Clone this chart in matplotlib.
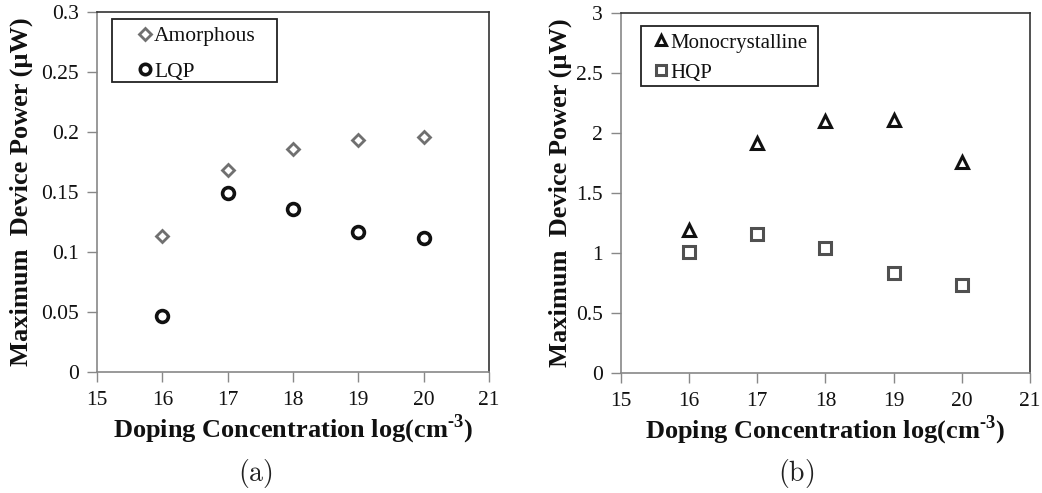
import matplotlib
matplotlib.use("Agg")
import matplotlib.pyplot as plt
from matplotlib.patches import Rectangle

# Doping concentration (log10 of cm^-3)
doping = [16, 17, 18, 19, 20]

# Panel (a): maximum device power in µW
amorphous = [0.113, 0.168, 0.186, 0.193, 0.196]
lqp = [0.047, 0.149, 0.136, 0.117, 0.112]

# Panel (b): maximum device power in µW
monocrystalline = [1.19, 1.92, 2.10, 2.11, 1.76]
hqp = [1.01, 1.16, 1.04, 0.83, 0.73]

x_ticks = [15, 16, 17, 18, 19, 20, 21]
a_yticks = [0, 0.05, 0.1, 0.15, 0.2, 0.25, 0.3]
a_yticklabels = ["0", "0.05", "0.1", "0.15", "0.2", "0.25", "0.3"]
b_yticks = [0, 0.5, 1, 1.5, 2, 2.5, 3]
b_yticklabels = ["0", "0.5", "1", "1.5", "2", "2.5", "3"]

plt.rcParams["font.family"] = ["Liberation Serif", "DejaVu Serif"]
plt.rcParams["mathtext.fontset"] = "custom"
plt.rcParams["mathtext.rm"] = "Liberation Serif"
plt.rcParams["mathtext.bf"] = "Liberation Serif:bold"

W, H = 1042, 493
fig = plt.figure(figsize=(W / 100, H / 100), dpi=100)

def px_axes(l, t, r, b):
    return fig.add_axes([l / W, 1 - b / H, (r - l) / W, (b - t) / H])

ax_a = px_axes(97, 12, 489, 372)
ax_b = px_axes(621, 13, 1030, 373)

xlabel = "Doping Concentration log(cm$^{\\mathbf{\u20103}}$)"
ylabel = "Maximum  Device Power (\u00b5W)"
text_color = "#111111"

def style(ax, yticks, yticklabels, ylim, ylab_x):
    ax.set_xlim(15, 21)
    ax.set_ylim(*ylim)
    ax.set_xticks(x_ticks)
    ax.set_yticks(yticks)
    ax.set_yticklabels(yticklabels)
    ax.tick_params(axis="both", direction="out", length=7, width=1,
                   color="#888888", labelsize=15.5, labelcolor=text_color)
    ax.tick_params(axis="y", pad=6)
    ax.tick_params(axis="x", pad=7)
    for side in ("left", "bottom"):
        ax.spines[side].set_color("#888888")
        ax.spines[side].set_linewidth(1.2)
    for side in ("top", "right"):
        ax.spines[side].set_color("#333333")
        ax.spines[side].set_linewidth(1.2)
    ax.set_xlabel(xlabel, fontsize=19, fontweight="bold", color=text_color)
    ax.xaxis.set_label_coords(0.5, -0.112)
    ax.set_ylabel(ylabel, fontsize=19, fontweight="bold", color=text_color)
    ax.yaxis.set_label_coords(ylab_x, 0.5)

# Panel (a)
ax_a.plot(doping, amorphous, linestyle="none", marker="D", markersize=6.5,
          markerfacecolor="white", markeredgecolor="#707070", markeredgewidth=2,
          label="Amorphous")
ax_a.plot(doping, lqp, linestyle="none", marker="o", markersize=8.5,
          markerfacecolor="white", markeredgecolor="#111111", markeredgewidth=2.6,
          label="LQP")
style(ax_a, a_yticks, a_yticklabels, (0, 0.3), -0.163)

# Panel (b)
ax_b.plot(doping, monocrystalline, linestyle="none", marker="^", markersize=8.5,
          markerfacecolor="white", markeredgecolor="#111111", markeredgewidth=2.2,
          label="Monocrystalline")
ax_b.plot(doping, hqp, linestyle="none", marker="s", markersize=8,
          markerfacecolor="white", markeredgecolor="#505050", markeredgewidth=2.2,
          label="HQP")
style(ax_b, b_yticks, b_yticklabels, (0, 3), -0.12)

def legend(ax, box, text_left, top, spacing, fs):
    l, t, r, b = box
    ax.add_patch(Rectangle((l / W, 1 - b / H), (r - l) / W, (b - t) / H,
                           transform=fig.transFigure, facecolor="white",
                           edgecolor="#222222", linewidth=1.3, zorder=4,
                           clip_on=False))
    lg = ax.legend(loc="upper left", bbox_to_anchor=(text_left / W, 1 - top / H),
                   bbox_transform=fig.transFigure, fontsize=fs, frameon=False,
                   handlelength=0.7, handletextpad=0.1, borderpad=0,
                   labelspacing=spacing, borderaxespad=0, markerscale=0.88)
    lg.set_zorder(6)
    for t_ in lg.get_texts():
        t_.set_color(text_color)
    return lg

legend(ax_a, (112, 19, 277, 82), 137, 26, 0.72, 15.5)
legend(ax_b, (641, 26, 818, 86), 654, 33, 0.5, 15)

fig.text(255 / W, 1 - 473 / H, r"$\mathrm{(a)}$", math_fontfamily="cm",
         fontsize=20, ha="center", va="center", color="#222222")
fig.text(796 / W, 1 - 473 / H, r"$\mathrm{(b)}$", math_fontfamily="cm",
         fontsize=20, ha="center", va="center", color="#222222")

fig.savefig("out.png", dpi=100)
